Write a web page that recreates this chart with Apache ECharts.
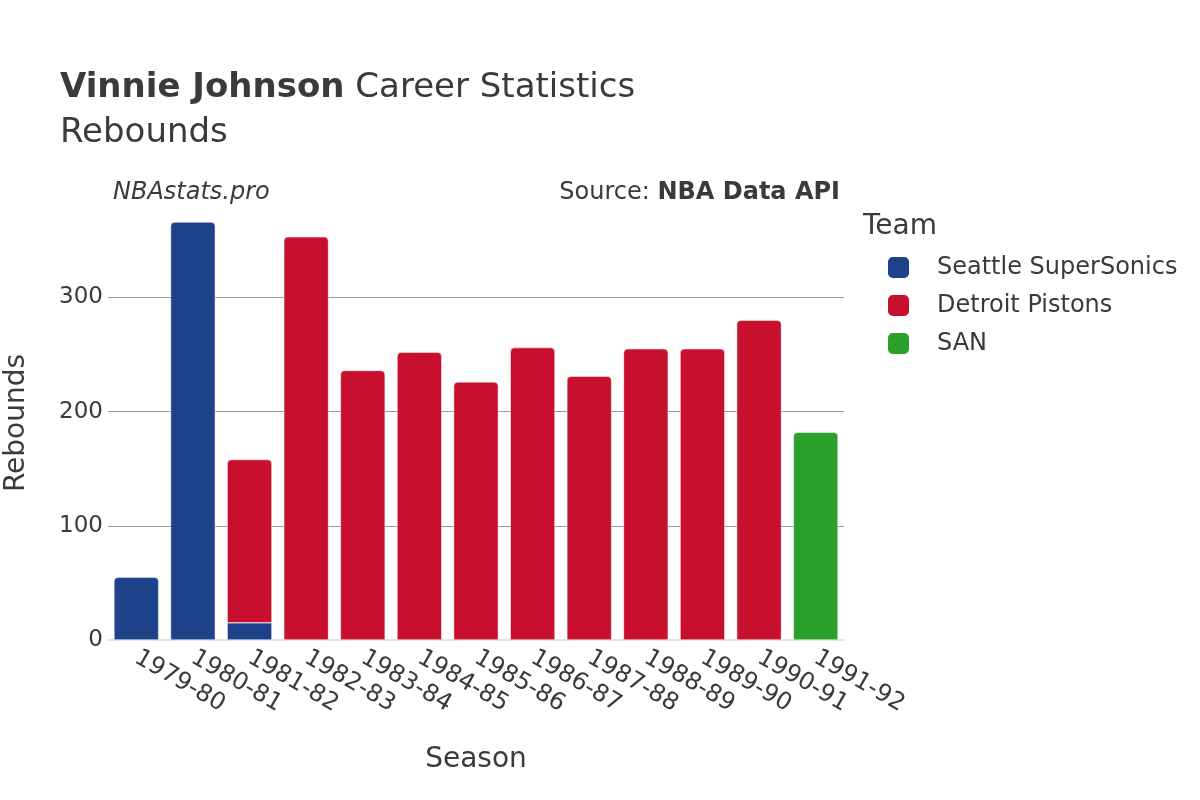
<!DOCTYPE html>
<html>
<head>
<meta charset="utf-8">
<script src="https://cdn.jsdelivr.net/npm/echarts@6/dist/echarts.min.js"></script>
<style>html,body{margin:0;padding:0;background:#fff}#c{width:1200px;height:800px}</style>
</head>
<body>
<div id="c"></div>
<script>
const seasons = ['1979-80','1980-81','1981-82','1982-83','1983-84','1984-85','1985-86','1986-87','1987-88','1988-89','1989-90','1990-91','1991-92'];
const teams = ['Seattle SuperSonics','Detroit Pistons','SAN'];
const seattle = [55, 366, 15, null, null, null, null, null, null, null, null, null, null];
const detroit = [null, null, 143, 353, 236, 252, 226, 256, 231, 255, 255, 280, null];
const san = [null, null, null, null, null, null, null, null, null, null, null, null, 182];
const yTicks = [0, 100, 200, 300];
const colors = ['#1d428a', '#c8102e', '#2ca02c'];
const FONT = 'DejaVu Sans';

const all = [seattle, detroit, san];
function seriesData(idx) {
  return all[idx].map((v, i) => {
    if (v == null) return null;
    let above = false;
    for (let k = idx + 1; k < all.length; k++) if (all[k][i] != null) above = true;
    return { value: v, itemStyle: { borderRadius: above ? 0 : [4, 4, 0, 0] } };
  });
}

const chart = echarts.init(document.getElementById('c'), null, { renderer: 'canvas' });
chart.setOption({
  backgroundColor: '#fff',
  textStyle: { fontFamily: FONT },
  title: [
    { text: '{b|Vinnie Johnson} Career Statistics', left: 55, top: 66,
      textStyle: { fontFamily: FONT, fontSize: 34, fontWeight: 'normal', color: '#3a3a3a',
        rich: { b: { fontFamily: FONT, fontSize: 34, fontWeight: 'bold', color: '#3a3a3a' } } } },
    { text: 'Rebounds', left: 55, top: 111,
      textStyle: { fontFamily: FONT, fontSize: 34, fontWeight: 'normal', color: '#3a3a3a' } },
    { text: 'NBAstats.pro', left: 108, top: 176,
      textStyle: { fontFamily: FONT, fontSize: 24, fontStyle: 'italic', fontWeight: 'normal', color: '#3a3a3a' } },
    { text: 'Source: {b|NBA Data API}', right: 355, top: 176,
      textStyle: { fontFamily: FONT, fontSize: 24, fontWeight: 'normal', color: '#3a3a3a',
        rich: { b: { fontFamily: FONT, fontSize: 24, fontWeight: 'bold', color: '#3a3a3a' } } } },
    { text: 'Team', left: 858, top: 208,
      textStyle: { fontFamily: FONT, fontSize: 28, fontWeight: 'normal', color: '#3a3a3a' } }
  ],
  legend: {
    data: teams, orient: 'vertical', left: 881, top: 250,
    icon: 'roundRect', itemWidth: 23, itemHeight: 23, itemGap: 13,
    textStyle: { fontFamily: FONT, fontSize: 24, color: '#3a3a3a', padding: [0, 0, 0, 22] },
    selectedMode: false
  },
  grid: { left: 108, right: 356, top: 206, bottom: 160, containLabel: false, outerBoundsMode: 'none' },
  xAxis: {
    type: 'category', data: seasons,
    name: 'Season', nameLocation: 'middle', nameGap: 106,
    nameTextStyle: { fontFamily: FONT, fontSize: 28, color: '#3a3a3a' },
    axisLine: { show: true, lineStyle: { color: '#e3e3e3', width: 2 } },
    axisTick: { show: false },
    axisLabel: { rotate: -30, fontFamily: FONT, fontSize: 24, color: '#3a3a3a', margin: 16, interval: 0 }
  },
  yAxis: {
    type: 'value', min: 0, max: 380, interval: 100,
    name: 'Rebounds', nameLocation: 'middle', nameGap: 77,
    nameTextStyle: { fontFamily: FONT, fontSize: 28, color: '#3a3a3a' },
    axisLine: { show: false }, axisTick: { show: false },
    axisLabel: { fontFamily: FONT, fontSize: 23, color: '#3a3a3a', margin: 5,
      formatter: v => (yTicks.indexOf(v) >= 0 ? String(v) : '') },
    splitLine: { show: true, lineStyle: { color: ['rgba(0,0,0,0)', '#9a9a9a', '#9a9a9a', '#9a9a9a', 'rgba(0,0,0,0)'], width: 1 } }
  },
  series: teams.map((t, i) => ({
    name: t, type: 'bar', stack: 'total', data: seriesData(i),
    barCategoryGap: '21%',
    itemStyle: { color: colors[i], borderColor: '#fff', borderWidth: 0.5 },
    emphasis: { disabled: true }
  })),
  animation: false
});
</script>
</body>
</html>
